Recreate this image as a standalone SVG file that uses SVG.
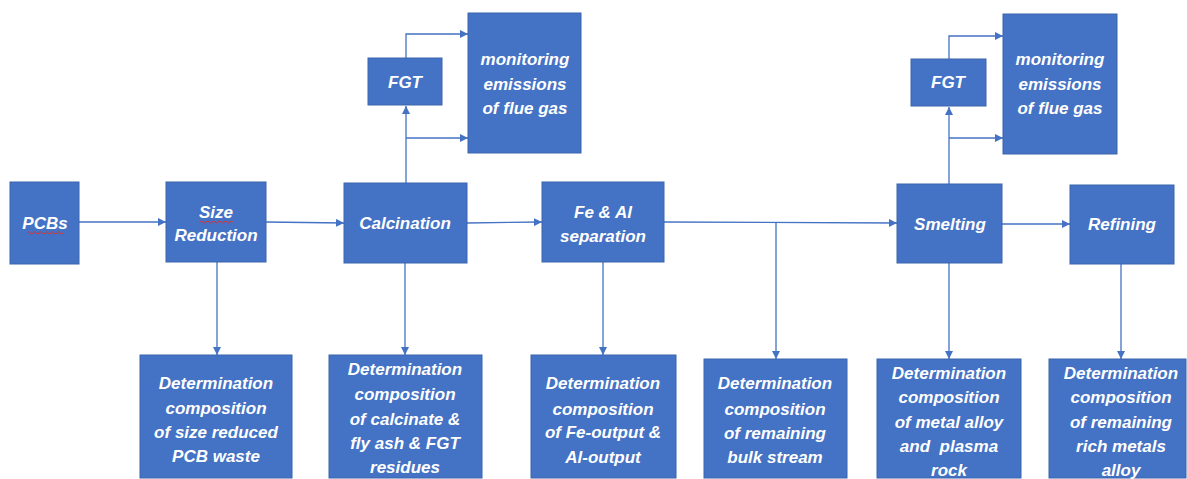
<svg xmlns="http://www.w3.org/2000/svg" width="1187" height="479" viewBox="0 0 1187 479">
<style>
.box{fill:#4472C4;stroke:#3A64AE;stroke-width:1}
.t{font-family:"Liberation Sans",Arial,sans-serif;font-weight:bold;font-style:italic;font-size:17px;fill:#FFFFFF;text-anchor:middle}
.c{fill:none;stroke:#4472C4;stroke-width:1.3}
.sq{fill:none;stroke:#E03030;stroke-width:1}
</style>
<defs>
<marker id="ah" viewBox="0 0 10 10" refX="10" refY="5" markerWidth="8" markerHeight="8" markerUnits="userSpaceOnUse" orient="auto">
<path d="M0,0 L10,5 L0,10 Z" fill="#4472C4"/>
</marker>
</defs>
<rect width="1187" height="479" fill="#FFFFFF"/>
<g id="connectors">
<path class="c" marker-end="url(#ah)" d="M79,222 L166,222"/>
<path class="c" marker-end="url(#ah)" d="M266,222 L344,223"/>
<path class="c" marker-end="url(#ah)" d="M467,223 L542,222"/>
<path class="c" marker-end="url(#ah)" d="M664,222 L897,223"/>
<path class="c" marker-end="url(#ah)" d="M1002,224 L1070,224"/>
<path class="c" marker-end="url(#ah)" d="M217,262 L217,355"/>
<path class="c" marker-end="url(#ah)" d="M405,263 L405,355"/>
<path class="c" marker-end="url(#ah)" d="M603,262 L603,355"/>
<path class="c" marker-end="url(#ah)" d="M776,222 L776,359"/>
<path class="c" marker-end="url(#ah)" d="M949,263 L949,359"/>
<path class="c" marker-end="url(#ah)" d="M1121,264 L1121,359"/>
<path class="c" marker-end="url(#ah)" d="M406,183 L406,106"/>
<path class="c" marker-end="url(#ah)" d="M406,138 L468,138"/>
<path class="c" marker-end="url(#ah)" d="M406,58 L406,34 L468,34"/>
<path class="c" marker-end="url(#ah)" d="M949,184 L949,107"/>
<path class="c" marker-end="url(#ah)" d="M949,138 L1003,138"/>
<path class="c" marker-end="url(#ah)" d="M949,59 L949,36 L1003,36"/>
</g>
<g id="pcbs">
<rect class="box" x="10" y="182" width="69" height="82"/>
<text class="t" x="45" y="229">PCBs</text>
<path class="sq" d="M27,233 q1.5,-2 3,0 t3,0 t3,0 t3,0 t3,0 t3,0 t3,0 t3,0 t3,0 t3,0 t3,0 t3,0"/>
</g>
<g id="size">
<rect class="box" x="166" y="182" width="100" height="80"/>
<text class="t" x="216" y="218">Size</text>
<text class="t" x="216" y="241">Reduction</text>
<path class="sq" d="M200,222 q1.5,-2 3,0 t3,0 t3,0 t3,0 t3,0 t3,0 t3,0 t3,0 t3,0 t3,0 t3,0"/>
</g>
<g id="calcination">
<rect class="box" x="344" y="183" width="123" height="80"/>
<text class="t" x="405" y="229">Calcination</text>
</g>
<g id="fgt1">
<rect class="box" x="368" y="58" width="74" height="47"/>
<text class="t" x="405" y="88">FGT</text>
</g>
<g id="mon1">
<rect class="box" x="468" y="13" width="113" height="140"/>
<text class="t" x="525" y="65">monitoring</text>
<text class="t" x="525" y="90">emissions</text>
<text class="t" x="525" y="114">of flue gas</text>
</g>
<g id="feal">
<rect class="box" x="542" y="182" width="122" height="80"/>
<text class="t" x="603" y="218">Fe &amp; Al</text>
<text class="t" x="603" y="242">separation</text>
</g>
<g id="smelting">
<rect class="box" x="897" y="184" width="105" height="79"/>
<text class="t" x="950" y="230">Smelting</text>
</g>
<g id="refining">
<rect class="box" x="1070" y="185" width="104" height="79"/>
<text class="t" x="1122" y="230">Refining</text>
</g>
<g id="fgt2">
<rect class="box" x="911" y="59" width="75" height="47"/>
<text class="t" x="948" y="88">FGT</text>
</g>
<g id="mon2">
<rect class="box" x="1003" y="14" width="114" height="140"/>
<text class="t" x="1060" y="65">monitoring</text>
<text class="t" x="1060" y="90">emissions</text>
<text class="t" x="1060" y="114">of flue gas</text>
</g>
<g id="det1">
<rect class="box" x="140" y="355" width="152" height="123"/>
<text class="t" x="216" y="389">Determination</text>
<text class="t" x="216" y="414">composition</text>
<text class="t" x="216" y="438">of size reduced</text>
<text class="t" x="216" y="462">PCB waste</text>
</g>
<g id="det2">
<rect class="box" x="329" y="355" width="153" height="123"/>
<text class="t" x="405" y="375">Determination</text>
<text class="t" x="405" y="400">composition</text>
<text class="t" x="405" y="425">of calcinate &amp;</text>
<text class="t" x="405" y="449">fly ash &amp; FGT</text>
<text class="t" x="405" y="473">residues</text>
</g>
<g id="det3">
<rect class="box" x="531" y="355" width="145" height="123"/>
<text class="t" x="603" y="389">Determination</text>
<text class="t" x="603" y="415">composition</text>
<text class="t" x="603" y="438">of Fe-output &amp;</text>
<text class="t" x="603" y="463">Al-output</text>
</g>
<g id="det4">
<rect class="box" x="704" y="359" width="143" height="119"/>
<text class="t" x="775" y="389">Determination</text>
<text class="t" x="775" y="415">composition</text>
<text class="t" x="775" y="439">of remaining</text>
<text class="t" x="775" y="463">bulk stream</text>
</g>
<g id="det5">
<rect class="box" x="877" y="359" width="144" height="119"/>
<text class="t" x="949" y="379">Determination</text>
<text class="t" x="949" y="403">composition</text>
<text class="t" x="949" y="428">of metal alloy</text>
<text class="t" x="949" y="452" xml:space="preserve">and  plasma</text>
<text class="t" x="949" y="476">rock</text>
</g>
<g id="det6">
<rect class="box" x="1049" y="359" width="137" height="119"/>
<text class="t" x="1121" y="379">Determination</text>
<text class="t" x="1121" y="403">composition</text>
<text class="t" x="1121" y="428">of remaining</text>
<text class="t" x="1121" y="452">rich metals</text>
<text class="t" x="1121" y="476">alloy</text>
</g>
</svg>
